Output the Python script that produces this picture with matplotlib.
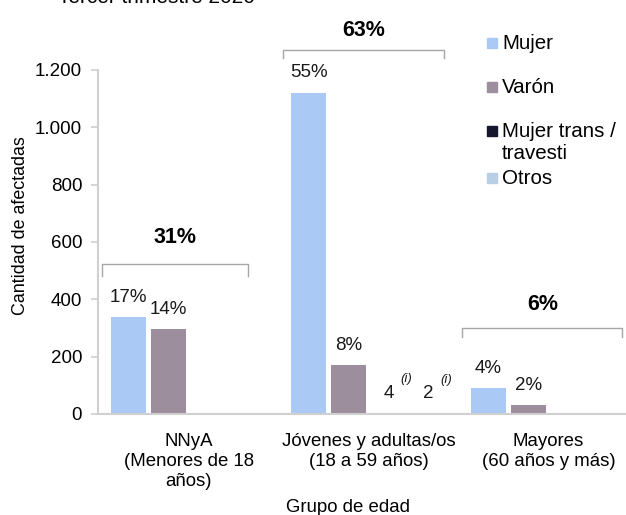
import matplotlib
matplotlib.use("Agg")
import matplotlib.pyplot as plt
from matplotlib.patches import Rectangle
import numpy as np

plt.rcParams['font.family'] = ['Liberation Sans', 'DejaVu Sans']

# ---- data ----
categories = ["NNyA\n(Menores de 18\naños)", "Jóvenes y adultas/os\n(18 a 59 años)", "Mayores\n(60 años y más)"]
series_names = ["Mujer", "Varón", "Mujer trans /\ntravesti", "Otros"]
mujer = [338, 1121, 91]
varon = [296, 171, 31]
trans = [0, 4, 0]
otros = [0, 2, 0]
mujer_lbl = ["17%", "55%", "4%"]
varon_lbl = ["14%", "8%", "2%"]
trans_lbl = ["", "4", ""]
otros_lbl = ["", "2", ""]
group_totals = ["31%", "63%", "6%"]
yticks = [0, 200, 400, 600, 800, 1000, 1200]
ytick_labels = ["0", "200", "400", "600", "800", "1.000", "1.200"]

colors = ["#aac9f5", "#9d8e9e", "#16162e", "#b9cfe6"]

W, H = 626, 515
fig = plt.figure(figsize=(W / 100, H / 100), dpi=100)
ax = fig.add_axes([97.5 / W, (H - 414) / H, (W - 97.5) / W, (414 - 70) / H])

x = np.arange(len(categories))
stride = 40 / 180
bw = 35 / 180
series = [mujer, varon, trans, otros]
labels = [mujer_lbl, varon_lbl, trans_lbl, otros_lbl]
for i, (vals, lbls) in enumerate(zip(series, labels)):
    xs = x + (i - 1.5) * stride
    bars = ax.bar(xs, vals, width=bw, color=colors[i], zorder=2)
    for b, v, l in zip(bars, vals, lbls):
        if not l:
            continue
        cx = b.get_x() + b.get_width() / 2
        ax.annotate(l, (cx, v), xytext=(0, 11), textcoords='offset points',
                    ha='center', va='baseline', fontsize=13.5, color='#1a1a1a')
        if i >= 2:
            ax.annotate("(i)", (cx, v), xytext=(12.5, 22), textcoords='offset points',
                        ha='center', va='baseline', fontsize=9.5, style='italic', color='#1a1a1a')

ax.set_xlim(-0.5056, 2.43)
ax.set_ylim(0, 1200)
ax.set_yticks(yticks)
ax.set_yticklabels(ytick_labels, fontsize=13.5)
ax.set_xticks(x)
ax.set_xticklabels(categories, fontsize=13.4, linespacing=1.25)
ax.tick_params(axis='x', length=0, pad=13.5)
ax.tick_params(axis='y', length=5, width=1.2, color='#d0d0d0', pad=6)
for s in ['top', 'right']:
    ax.spines[s].set_visible(False)
for s in ['left', 'bottom']:
    ax.spines[s].set_color('#d0d0d0')
    ax.spines[s].set_linewidth(1.5)

ax.set_ylabel("Cantidad de afectadas", fontsize=12.9)
ax.yaxis.set_label_coords(-0.13, 0.547)
ax.set_xlabel("Grupo de edad", fontsize=13.4)
ax.xaxis.set_label_coords(0.474, -0.247)

# group brackets
br_x = [(-0.48, 0.33), (0.525, 1.42), (1.52, 2.41)]
br_y = [(523, 481), (1270, 1242), (300, 269)]
tot_y = [595, 1318, 362]
for (x0, x1), (yt, yb), t, ty in zip(br_x, br_y, group_totals, tot_y):
    ax.plot([x0, x0, x1, x1], [yb, yt, yt, yb], color='#a6a6a6', lw=1.0, clip_on=False, zorder=3)
    ax.text((x0 + x1) / 2, ty, t, ha='center', va='baseline', fontsize=15.5, fontweight='bold', clip_on=False)

# legend (manual, to reproduce Excel spacing)
leg_y = [43, 87, 131, 178]
for name, c, yy in zip(series_names, colors, leg_y):
    fig.patches.append(Rectangle((487 / W, 1 - (yy + 5) / H), 10 / W, 10 / H,
                                 transform=fig.transFigure, color=c, figure=fig))
    fig.text(502 / W, 1 - (yy - 9) / H, name, ha='left', va='top', fontsize=14.8,
             linespacing=1.2)

# clipped title at top
fig.text(58 / W, 1 - 2.7 / H, "Tercer trimestre 2020", ha='left', va='baseline', fontsize=15)

fig.savefig("out.png", dpi=100)
